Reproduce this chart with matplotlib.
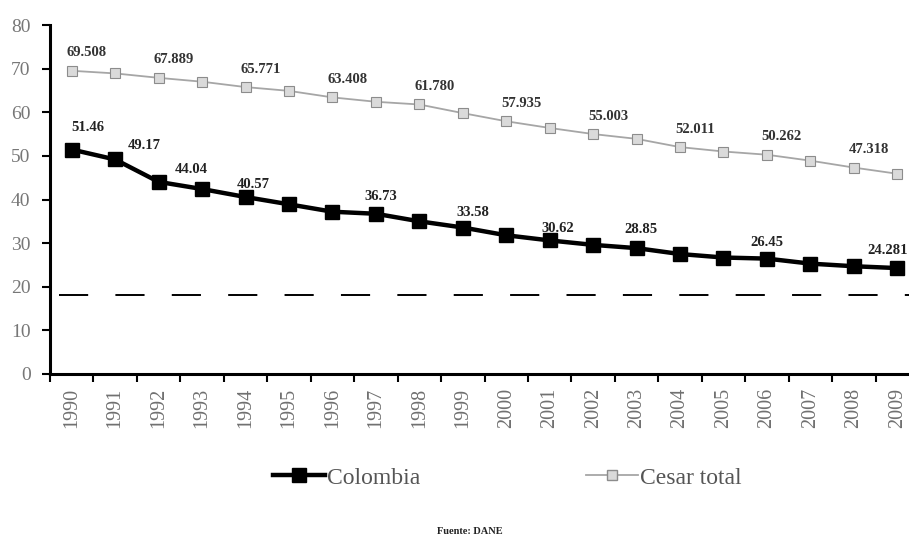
import matplotlib
matplotlib.use("Agg")
import matplotlib.pyplot as plt
from matplotlib.lines import Line2D

# Years on the category axis
years = [str(y) for y in range(1990, 2010)]

# Series values
colombia = [51.46, 49.17, 44.04, 42.4, 40.57, 38.9, 37.2, 36.73, 35.0, 33.58,
            31.8, 30.62, 29.6, 28.85, 27.5, 26.7, 26.45, 25.3, 24.7, 24.281]
cesar_total = [69.508, 68.9, 67.889, 67.0, 65.771, 64.9, 63.408, 62.4, 61.780, 59.8,
               57.935, 56.4, 55.003, 53.9, 52.011, 51.0, 50.262, 48.9, 47.318, 45.9]
meta = 18.0

# Which points carry a value label
colombia_labeled = [1990, 1991, 1992, 1994, 1997, 1999, 2001, 2003, 2006, 2009]
cesar_labeled = [1990, 1992, 1994, 1996, 1998, 2000, 2002, 2004, 2006, 2008]

y_ticks = [0, 10, 20, 30, 40, 50, 60, 70, 80]

# label offsets in pixels (dx, dy) for the Colombia series
col_offsets = {1990: (16, 22), 1991: (29, 14), 1992: (33, 12), 1994: (8, 13),
               1997: (5, 17), 1999: (10, 15), 2001: (8, 12), 2003: (4, 19),
               2006: (0, 16), 2009: (-10, 18)}

serif = ["Liberation Serif", "DejaVu Serif"]
plt.rcParams["font.family"] = serif

W, H = 909, 541
fig = plt.figure(figsize=(W / 100, H / 100), dpi=100)
left_px, right_px, top_px, bot_px = 50, 919, 25, 374
ax = fig.add_axes([left_px / W, 1 - bot_px / H,
                   (right_px - left_px) / W, (bot_px - top_px) / H])

x = list(range(len(years)))

ax.plot(x, cesar_total, color="#a6a6a6", lw=1.3, marker="s", markersize=7.5,
        markerfacecolor="#dadada", markeredgecolor="#8c8c8c", markeredgewidth=0.8,
        zorder=3)
ax.plot(x, colombia, color="black", lw=3.2, marker="s", markersize=9.5,
        markerfacecolor="black", markeredgecolor="black", zorder=4)

# dashed reference level
ax.plot([-0.3, 19.5], [meta, meta], color="black", lw=1.4,
        dashes=(15, 14), zorder=2)

for yr in colombia_labeled:
    i = int(yr) - 1990
    dx, dy = col_offsets[yr]
    ax.annotate(f"{colombia[i]:g}", (i, colombia[i]),
                xytext=(dx, dy), textcoords="offset pixels",
                ha="center", va="center", fontsize=10.5, fontweight="bold",
                color="#222222", zorder=5)

for yr in cesar_labeled:
    i = int(yr) - 1990
    ax.annotate(f"{cesar_total[i]:.3f}", (i, cesar_total[i]),
                xytext=(15, 18), textcoords="offset pixels",
                ha="center", va="center", fontsize=10.5, fontweight="bold",
                color="#333333", zorder=5)

ax.set_xlim(-0.5, 19.5)
ax.set_ylim(0, 80)
ax.set_yticks(y_ticks)
ax.set_yticklabels([str(v) for v in y_ticks], fontsize=14, color="#777777")

# category ticks at boundaries, labels at centres
ax.set_xticks([i - 0.5 for i in range(len(years) + 1)])
ax.set_xticklabels([])
ax.set_xticks(x, minor=True)
ax.set_xticklabels(years, minor=True, rotation=90, fontsize=14.5, color="#707070")
ax.tick_params(axis="x", which="major", length=6, width=1.5, direction="out")
ax.tick_params(axis="x", which="minor", length=0, pad=10)
ax.tick_params(axis="y", length=6, width=1.5, direction="out", pad=8)

for side in ("top", "right"):
    ax.spines[side].set_visible(False)
for side in ("left", "bottom"):
    ax.spines[side].set_linewidth(2.2)
    ax.spines[side].set_color("black")

handles = [
    Line2D([], [], color="black", lw=3.2, marker="s", markersize=9.5,
           markerfacecolor="black"),
    Line2D([], [], color="#a6a6a6", lw=1.3, marker="s", markersize=7.5,
           markerfacecolor="#dadada", markeredgecolor="#8c8c8c"),
]
fig.legend(handles, ["Colombia", "Cesar total"], loc="center",
           bbox_to_anchor=(0.558, 1 - 478 / H), ncol=2, frameon=False,
           fontsize=17, handlelength=2.2, columnspacing=7.0,
           labelcolor="#555555", handletextpad=0.1)

fig.text(0.517, 1 - 531 / H, "Fuente: DANE", ha="center", va="center",
         fontsize=7.5, fontweight="bold", color="#222222")

fig.savefig("out.png", dpi=100)
